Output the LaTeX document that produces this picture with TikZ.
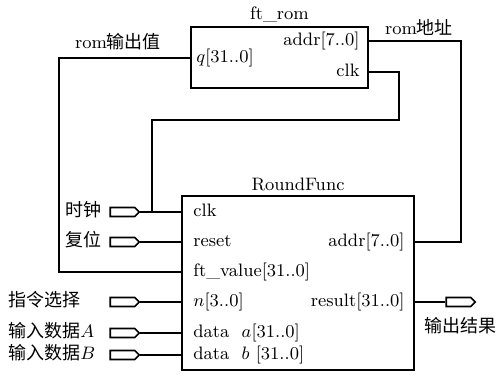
\documentclass[tikz,border=0pt]{standalone}
\usepackage{fontspec}
\newfontfamily\cjk{Noto Sans CJK SC}
\usetikzlibrary{shapes.symbols}
\begin{document}
\begin{tikzpicture}[x=0.5pt,y=-0.5pt,
  every node/.style={font=\fontsize{9}{11}\selectfont},
  block/.style={draw,line width=0.9pt,inner sep=0pt},
  port/.style={inner sep=0pt,text height=6.5pt,text depth=2pt},
  lbl/.style={inner sep=0pt,text height=6.5pt,text depth=2pt},
  pin/.style={signal,signal to=east,draw,line width=0.8pt,minimum width=14.5pt,minimum height=4.5pt,inner sep=0pt},
  wire/.style={line width=0.6pt}]
\useasboundingbox (0,0) rectangle (497,376);
% ft_rom block
\node[block,minimum width=88.5pt,minimum height=30.5pt] (rom) at (279.5,57.5) {};
\node[anchor=south,inner sep=0pt] (romt) at (279.5,22) {ft\_rom};
\node[port,anchor=west] (rq) at (196,58) {$q$[31..0]};
\node[port,anchor=east] (raddr) at (360,41) {addr[7..0]};
\node[port,anchor=east] (rclk) at (360,72) {clk};
% RoundFunc block
\node[block,minimum width=116pt,minimum height=87pt] (rf) at (298,283) {};
\node[anchor=south,inner sep=0pt] (rft) at (298,191) {RoundFunc};
\node[port,anchor=west] (fclk) at (193,212) {clk};
\node[port,anchor=west] (frst) at (193,242) {reset};
\node[port,anchor=west] (fft) at (193,272) {ft\_value[31..0]};
\node[port,anchor=west] (fn) at (193,302) {$n$[3..0]};
\node[port,anchor=west] (fa) at (193,333) {data\ \ $a$[31..0]};
\node[port,anchor=west] (fb) at (193,355) {data\ \ $b$ [31..0]};
\node[port,anchor=east] (faddr) at (405,242) {addr[7..0]};
\node[port,anchor=east] (fres) at (405,302) {result[31..0]};
% pins
\node[pin] (pclk) at (122.5,212) {};
\node[pin] (prst) at (122.5,242) {};
\node[pin] (pn) at (122.5,302) {};
\node[pin] (pa) at (122.5,333) {};
\node[pin] (pb) at (122.5,355) {};
\node[pin] (pout) at (458.5,302) {};
% labels
\node[lbl,anchor=east] (tclk) at (102,212) {\cjk 时钟};
\node[lbl,anchor=east] (trst) at (102,242) {\cjk 复位};
\node[lbl,anchor=west] (tn) at (8,302) {\cjk 指令选择};
\node[lbl,anchor=west] (ta) at (8,333) {{\cjk 输入数据}$A$};
\node[lbl,anchor=west] (tb) at (8,355) {{\cjk 输入数据}$B$};
\node[lbl] (tout) at (460,328) {\cjk 输出结果};
\node[lbl] (trq) at (118,44) {rom{\cjk 输出值}};
\node[lbl] (tra) at (419,30) {rom{\cjk 地址}};
% helper coordinates
\coordinate (lx) at (59,58);
\coordinate (j) at (152,212);
\coordinate (rx) at (399,120);
\coordinate (ax) at (461,41);
% wires
\draw[wire] (rom.west |- rq) -- (lx) |- (rf.west |- fft);
\draw[wire] (pclk.east) -- (rf.west |- fclk);
\draw[wire] (j) |- (rx) |- (rom.east |- rclk);
\draw[wire] (rom.east |- raddr) -- (ax) |- (rf.east |- faddr);
\draw[wire] (prst.east) -- (rf.west |- frst);
\draw[wire] (pn.east) -- (rf.west |- fn);
\draw[wire] (pa.east) -- (rf.west |- fa);
\draw[wire] (pb.east) -- (rf.west |- fb);
\draw[wire] (rf.east |- fres) -- (pout.west);
\end{tikzpicture}
\end{document}
